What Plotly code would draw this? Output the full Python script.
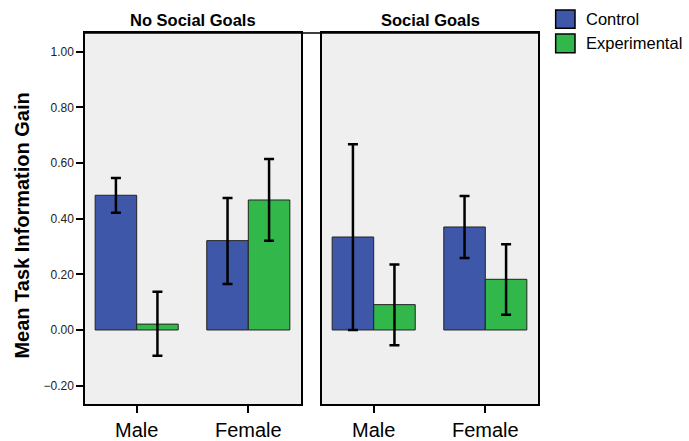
import plotly.graph_objects as go

# ---- data ----
panels = ["No Social Goals", "Social Goals"]
genders = ["Male", "Female"]
series = ["Control", "Experimental"]
colors = ["#3E57A9", "#31B74A"]

# mean values [panel][series][gender]
means = {
    "No Social Goals": {"Control": [0.484, 0.321], "Experimental": [0.021, 0.467]},
    "Social Goals": {"Control": [0.334, 0.370], "Experimental": [0.091, 0.182]},
}
upper = {
    "No Social Goals": {"Control": [0.546, 0.474], "Experimental": [0.137, 0.614]},
    "Social Goals": {"Control": [0.667, 0.481], "Experimental": [0.235, 0.308]},
}
lower = {
    "No Social Goals": {"Control": [0.421, 0.165], "Experimental": [-0.093, 0.321]},
    "Social Goals": {"Control": [0.000, 0.259], "Experimental": [-0.055, 0.055]},
}
y_ticks = [-0.2, 0.0, 0.2, 0.4, 0.6, 0.8, 1.0]

FONT = "Liberation Sans, Arial, sans-serif"

fig = go.Figure()
for pi, panel in enumerate(panels):
    xa = "x" if pi == 0 else "x2"
    ya = "y" if pi == 0 else "y2"
    for si, s in enumerate(series):
        m = means[panel][s]
        up = [u - v for u, v in zip(upper[panel][s], m)]
        dn = [v - l for v, l in zip(m, lower[panel][s])]
        fig.add_trace(go.Bar(
            x=genders, y=m, name=s, xaxis=xa, yaxis=ya,
            marker=dict(color=colors[si], line=dict(color="#222222", width=1)),
            error_y=dict(type="data", symmetric=False, array=up, arrayminus=dn,
                         color="black", thickness=2.5, width=5),
            showlegend=False,
        ))

yr = [-0.266, 1.067]
common_x = dict(range=[-0.463, 1.472], showline=True, mirror=True, linecolor="black",
                linewidth=1.5, ticks="outside", ticklen=7, tickcolor="black", tickwidth=1.5,
                tickfont=dict(size=20, color="black", family=FONT), showgrid=False,
                zeroline=False, automargin=False)
fig.update_layout(
    width=689, height=441,
    margin=dict(l=85, r=151, t=33, b=37, autoexpand=False),
    paper_bgcolor="white", plot_bgcolor="#EFEFEF",
    barmode="group", bargap=0.256, bargroupgap=0,
    font=dict(family=FONT, color="black"),
    xaxis=dict(domain=[0, 0.4768], anchor="y", **common_x),
    xaxis2=dict(domain=[0.5232, 1], anchor="y2", **common_x),
    yaxis=dict(range=yr, tickvals=y_ticks, tickformat=".2f", showline=True, mirror=True,
               linecolor="black", linewidth=1.5, ticks="outside", ticklen=7, tickcolor="black",
               tickwidth=1.5, tickfont=dict(size=12, color="#222222", family=FONT),
               showgrid=False, zeroline=False, anchor="x", automargin=False),
    yaxis2=dict(range=yr, showline=True, mirror=True, linecolor="black", linewidth=1.5,
                showticklabels=False, ticks="", showgrid=False, zeroline=False, anchor="x2",
                automargin=False),
)

# panel titles
for pi, panel in enumerate(panels):
    dom = [0, 0.4768] if pi == 0 else [0.5232, 1]
    fig.add_annotation(x=(dom[0] + dom[1]) / 2, y=1.035, xref="paper", yref="paper",
                       text="<b>%s</b>" % panel, showarrow=False, xanchor="center",
                       yanchor="middle", font=dict(size=16.5, family=FONT, color="black"))

# top line across the gap
fig.add_shape(type="line", xref="paper", yref="paper", x0=0, x1=1, y0=1, y1=1,
              line=dict(color="black", width=1.5))

# y-axis title
fig.add_annotation(x=-0.139, y=0.481, xref="paper", yref="paper", textangle=-90,
                   text="<b>Mean Task Information Gain</b>", showarrow=False,
                   xanchor="center", yanchor="middle",
                   font=dict(size=20, family=FONT, color="black"))

# legend
leg_y = [(1.062, 1.0127, 1.0377), (0.997, 0.947, 0.972)]
for si, s in enumerate(series):
    y0, y1, yc = leg_y[si]
    fig.add_shape(type="rect", xref="paper", yref="paper", x0=1.039, x1=1.0817, y0=y1, y1=y0,
                  fillcolor=colors[si], line=dict(color="black", width=1.5))
    fig.add_annotation(x=1.1015, y=yc, xref="paper", yref="paper", text=s, showarrow=False,
                       xanchor="left", yanchor="middle",
                       font=dict(size=16.5, family=FONT, color="black"))

fig.write_html("out.html", config={"displayModeBar": False},
               post_script="document.body.style.margin='0';")
